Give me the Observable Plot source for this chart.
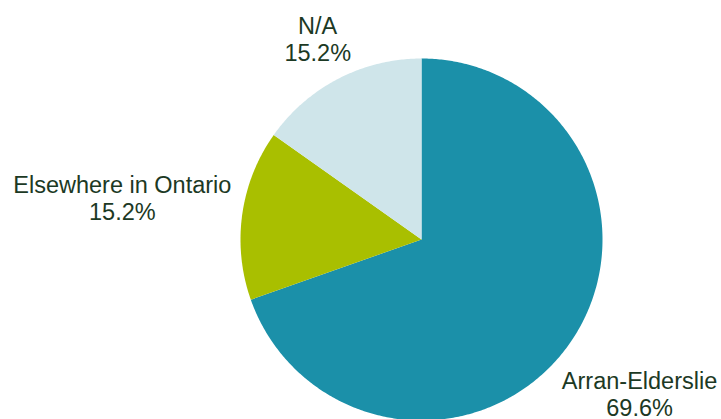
<!DOCTYPE html>
<html><head><meta charset="utf-8">
<script src="https://cdn.jsdelivr.net/npm/d3@7"></script>
<script src="https://cdn.jsdelivr.net/npm/@observablehq/plot@0.6"></script>
<style>body{margin:0;background:#fff;overflow:hidden;}</style>
</head><body><div id="chart"></div>
<script>
// Data
const categories = ["Arran-Elderslie", "Elsewhere in Ontario", "N/A"];
const shares = [69.6, 15.2, 15.2];
const colors = ["#1b90a9", "#a9bf00", "#cfe5ea"];

// Layout
const W = 721, H = 419, R = 181, CX = 421, CY = 239;
const FONT_SIZE = 23.5, LINE_H = 1.15, FONT = "Liberation Sans, Arial, Helvetica, sans-serif";

const arcs = d3.pie().sort(null).value(d => d)(shares);

// slice outlines in unit-circle coordinates (y up)
const slicePts = [];
arcs.forEach((a, i) => {
  const n = Math.max(2, Math.ceil((a.endAngle - a.startAngle) / 0.01));
  slicePts.push({name: categories[i], x: 0, y: 0});
  for (let k = 0; k <= n; k++) {
    const t = a.startAngle + (a.endAngle - a.startAngle) * k / n;
    slicePts.push({name: categories[i], x: Math.sin(t), y: Math.cos(t)});
  }
});

// label placement: outside the pie along the mid-angle, pushed out by label extent
const ctx = document.createElement("canvas").getContext("2d");
ctx.font = `${FONT_SIZE}px ${FONT}`;
const labelData = arcs.map((a, i) => {
  const lines = [categories[i], shares[i].toFixed(1) + "%"];
  const hw = Math.max(...lines.map(l => ctx.measureText(l).width)) / 2;
  const hh = ((lines.length - 1) * FONT_SIZE * LINE_H + FONT_SIZE * 0.72) / 2;
  const mid = (a.startAngle + a.endAngle) / 2;
  const s = Math.sin(mid), c = Math.cos(mid);
  const d = (R + 10 + Math.abs(s) * hw + Math.abs(c) * hh) / R;
  return {text: lines.join("\n"), x: s * d, y: c * d};
});

const chart = Plot.plot({
  width: W, height: H,
  margin: 0,
  style: {fontFamily: FONT, background: "#fff"},
  x: {domain: [-1, 1], range: [CX - R, CX + R], axis: null},
  y: {domain: [-1, 1], range: [CY + R, CY - R], axis: null},
  color: {domain: categories, range: colors},
  marks: [
    Plot.line(slicePts, {x: "x", y: "y", z: "name", fill: "name", stroke: null, curve: "linear-closed"}),
    Plot.text(labelData, {x: "x", y: "y", text: "text", fontSize: FONT_SIZE, lineHeight: LINE_H,
      fill: "#1c3924", textAnchor: "middle", lineAnchor: "middle"})
  ]
});
document.getElementById("chart").append(chart);
</script>
</body></html>
